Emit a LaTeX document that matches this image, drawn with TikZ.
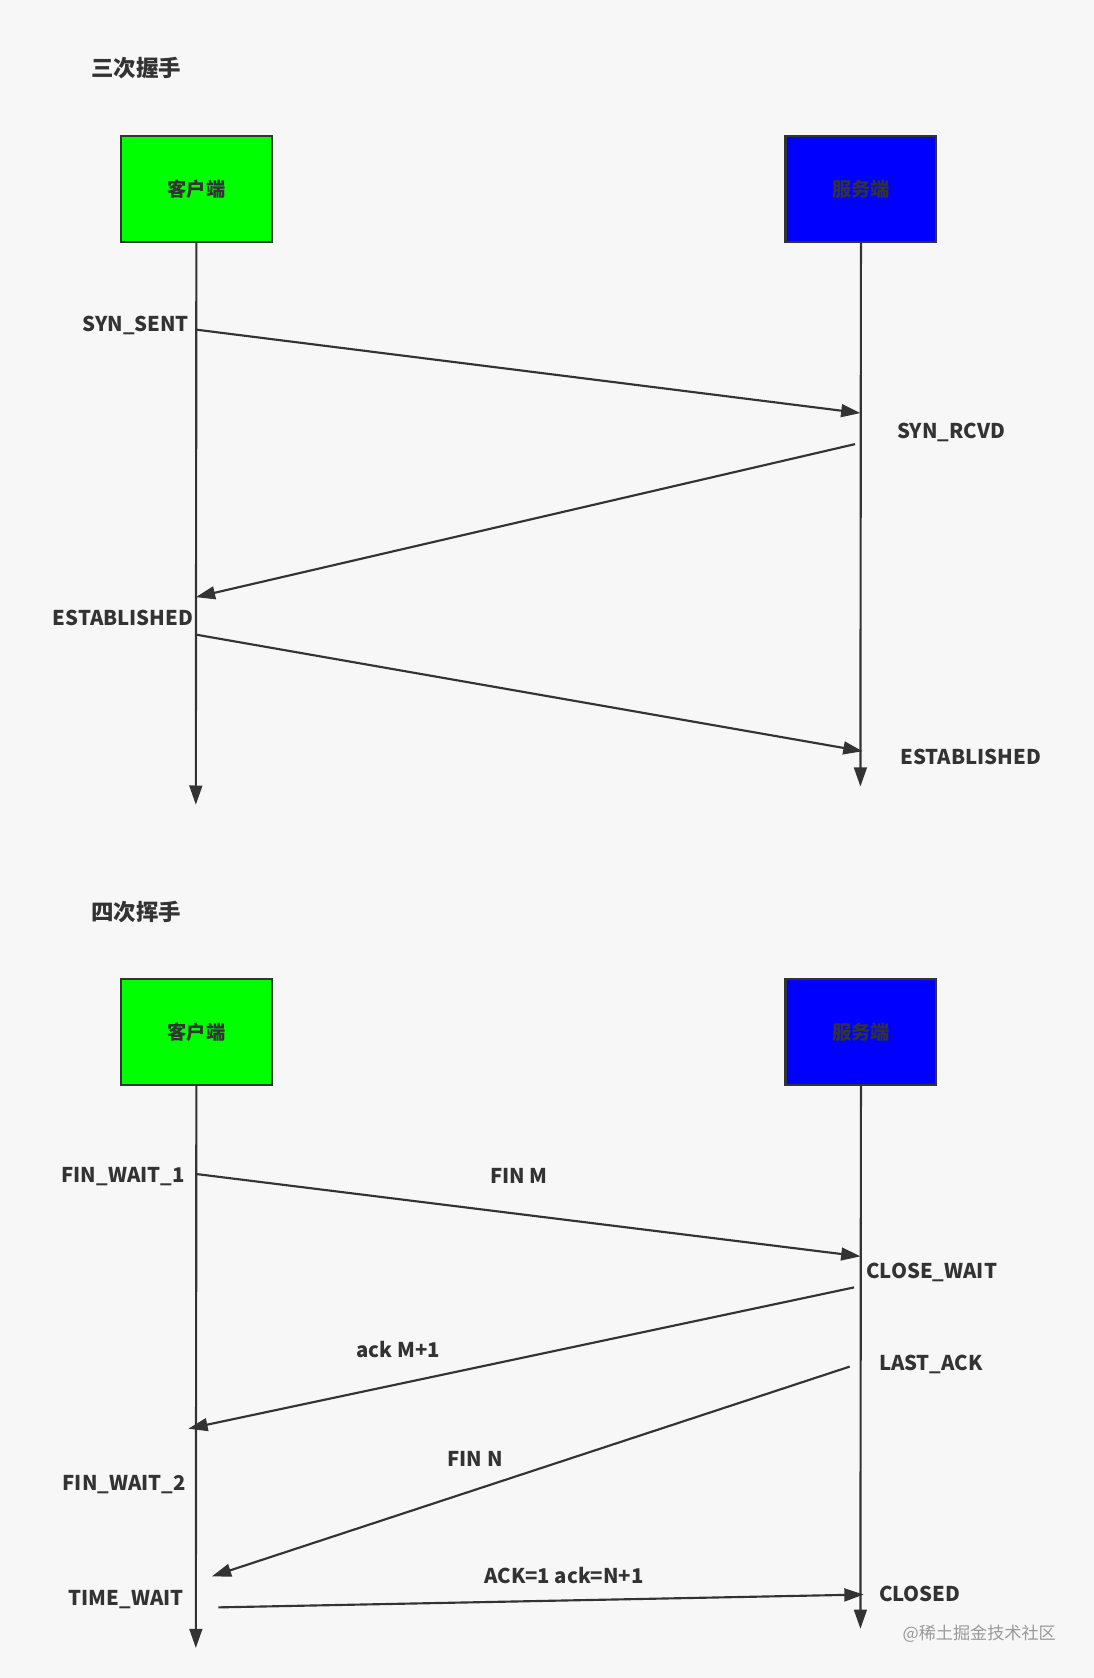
\documentclass[tikz,border=0pt]{standalone}
\usepackage{fontspec}
\setmainfont{Noto Sans CJK SC}
\usetikzlibrary{arrows.meta}
\definecolor{ink}{HTML}{333333}
\begin{document}
\begin{tikzpicture}[x=0.5pt,y=-0.5pt,
  lbl/.style={font=\fontsize{9.5pt}{11pt}\selectfont\bfseries,text=ink,inner sep=0pt},
  ttl/.style={font=\fontsize{10.5pt}{12pt}\selectfont\bfseries,text=ink,inner sep=0pt,anchor=west},
  box/.style={draw=ink,line width=1pt,minimum width=70.5pt,minimum height=49.5pt,inner sep=0pt,font=\fontsize{9pt}{11pt}\selectfont\bfseries,text=ink},
  msg/.style={draw=ink,line width=1pt,-{Triangle[length=9pt,width=6pt]}}]
\fill[white!97!black] (0,0) rectangle (1022,1568);
\useasboundingbox (0,0) rectangle (1022,1568);
% ---- three-way handshake
\node[ttl] (t1) at (85,64) {三次握手};
\node[box,fill={rgb,255:red,0;green,255;blue,0}] (c1) at (183.5,176.5) {客户端};
\node[box,fill={rgb,255:red,0;green,0;blue,255}] (s1) at (804.5,176.5) {服务端};
\coordinate (c1e) at (183,752); \coordinate (s1e) at (804,735);
\draw[msg] (c1.south) -- (c1e);
\draw[msg] (s1.south) -- (s1e);
\coordinate (a1) at (183,308); \coordinate (b1) at (804,386);
\coordinate (a2) at (799,415); \coordinate (b2) at (183,558);
\coordinate (a3) at (183,593); \coordinate (b3) at (806,702);
\draw[msg] (a1) -- (b1);
\draw[msg] (a2) -- (b2);
\draw[msg] (a3) -- (b3);
\node[lbl,anchor=east] (l1) at (177,304) {SYN\_SENT};
\node[lbl,anchor=west] (l2) at (838,404) {SYN\_RCVD};
\node[lbl,anchor=east] (l3) at (181,577) {ESTABLISHED};
\node[lbl,anchor=west] (l4) at (841,707) {ESTABLISHED};
% ---- four-way wave
\node[ttl] (t2) at (85,852) {四次挥手};
\node[box,fill={rgb,255:red,0;green,255;blue,0}] (c2) at (183.5,964.5) {客户端};
\node[box,fill={rgb,255:red,0;green,0;blue,255}] (s2) at (804.5,964.5) {服务端};
\coordinate (c2e) at (183,1540); \coordinate (s2e) at (804,1522);
\draw[msg] (c2.south) -- (c2e);
\draw[msg] (s2.south) -- (s2e);
\coordinate (d1) at (183,1097); \coordinate (e1) at (804,1174);
\coordinate (d2) at (798,1203); \coordinate (e2) at (176,1335);
\coordinate (d3) at (794,1277); \coordinate (e3) at (198,1473);
\coordinate (d4) at (204,1502); \coordinate (e4) at (807,1490);
\draw[msg] (d1) -- (e1);
\draw[msg] (d2) -- (e2);
\draw[msg] (d3) -- (e3);
\draw[msg] (d4) -- (e4);
\node[lbl,anchor=east] (m1) at (173,1099) {FIN\_WAIT\_1};
\node[lbl] (m2) at (485,1099) {FIN M};
\node[lbl,anchor=west] (m3) at (809,1189) {CLOSE\_WAIT};
\node[lbl] (m4) at (372,1261) {ack M+1};
\node[lbl,anchor=west] (m5) at (821,1275) {LAST\_ACK};
\node[lbl] (m6) at (444,1363) {FIN N};
\node[lbl,anchor=east] (m7) at (174,1387) {FIN\_WAIT\_2};
\node[lbl,anchor=east] (m8) at (172,1495) {TIME\_WAIT};
\node[lbl] (m9) at (527,1472) {ACK=1 ack=N+1};
\node[lbl,anchor=west] (m10) at (821,1489) {CLOSED};
\node[inner sep=0pt,font=\fontsize{8pt}{10pt}\selectfont,text=black!40] (wm) at (915,1527) {@稀土掘金技术社区};
\end{tikzpicture}
\end{document}
